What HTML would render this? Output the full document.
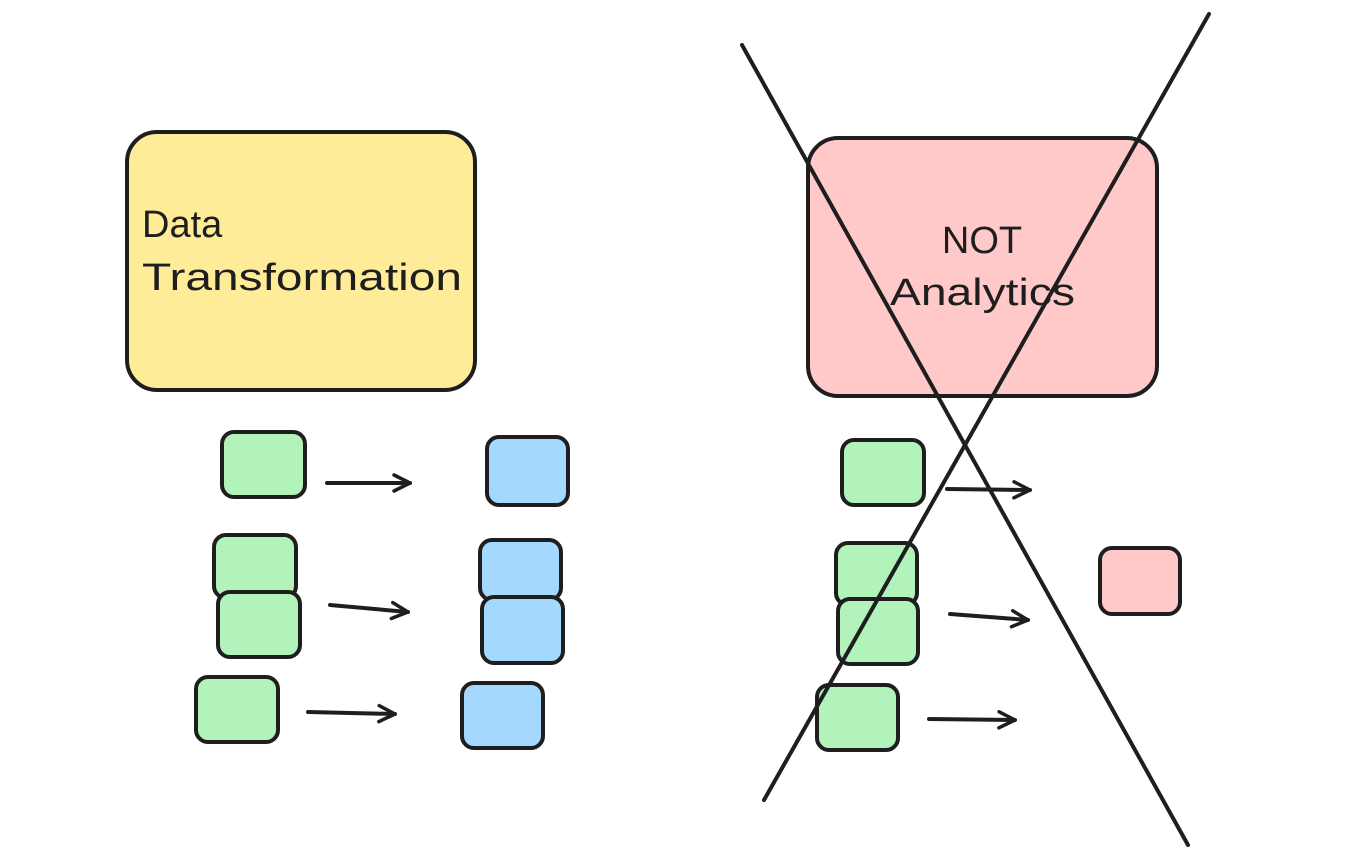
<!DOCTYPE html>
<html><head><meta charset="utf-8"><style>
html,body{margin:0;padding:0;background:#fff;}
svg{display:block;}
text{font-family:"Liberation Sans",sans-serif;fill:#1e1e1e;}
</style></head><body>
<svg width="1362" height="868" viewBox="0 0 1362 868" xmlns="http://www.w3.org/2000/svg">
<defs>
<marker id="ah" viewBox="0 0 20 20" refX="18" refY="10" markerWidth="20" markerHeight="20" markerUnits="userSpaceOnUse" orient="auto">
<path d="M2 2 L18 10 L2 18" fill="none" stroke="#1e1e1e" stroke-width="3.5" stroke-linecap="round" stroke-linejoin="round"/>
</marker>
</defs>
<g stroke="#1e1e1e" stroke-width="4" stroke-linejoin="round">
<rect x="127" y="132" width="348" height="258" rx="30" fill="#ffec99"/>
<rect x="808" y="138" width="349" height="258" rx="30" fill="#ffc9c9"/>
<g fill="#b2f2bb">
<rect x="222" y="432" width="83" height="65" rx="12"/>
<rect x="214" y="535" width="82" height="63" rx="12"/>
<rect x="218" y="592" width="82" height="65" rx="12"/>
<rect x="196" y="677" width="82" height="65" rx="12"/>
<rect x="842" y="440" width="82" height="65" rx="12"/>
<rect x="836" y="543" width="81" height="62" rx="12"/>
<rect x="838" y="599" width="80" height="65" rx="12"/>
<rect x="817" y="685" width="81" height="65" rx="12"/>
</g>
<g fill="#a5d8ff">
<rect x="487" y="437" width="81" height="68" rx="12"/>
<rect x="480" y="540" width="81" height="60" rx="12"/>
<rect x="482" y="597" width="81" height="66" rx="12"/>
<rect x="462" y="683" width="81" height="65" rx="12"/>
</g>
<rect x="1100" y="548" width="80" height="66" rx="12" fill="#ffc9c9"/>
</g>
<g stroke="#1e1e1e" stroke-width="4" stroke-linecap="round" fill="none" marker-end="url(#ah)">
<line x1="327" y1="483" x2="410" y2="483"/>
<line x1="330" y1="605" x2="408" y2="612"/>
<line x1="308" y1="712" x2="395" y2="714"/>
<line x1="947" y1="489" x2="1030" y2="490"/>
<line x1="950" y1="614" x2="1028" y2="620"/>
<line x1="929" y1="719" x2="1015" y2="720"/>
</g>
<text x="142" y="237" font-size="38">Data</text>
<text x="142" y="290" font-size="38" textLength="320" lengthAdjust="spacingAndGlyphs">Transformation</text>
<text x="982" y="253" font-size="38" text-anchor="middle">NOT</text>
<text x="890" y="305" font-size="38" textLength="185" lengthAdjust="spacingAndGlyphs">Analytics</text>
<g stroke="#1e1e1e" stroke-width="4" stroke-linecap="round">
<line x1="742" y1="45" x2="1188" y2="845"/>
<line x1="1209" y1="14" x2="764" y2="800"/>
</g>
</svg>
</body></html>
